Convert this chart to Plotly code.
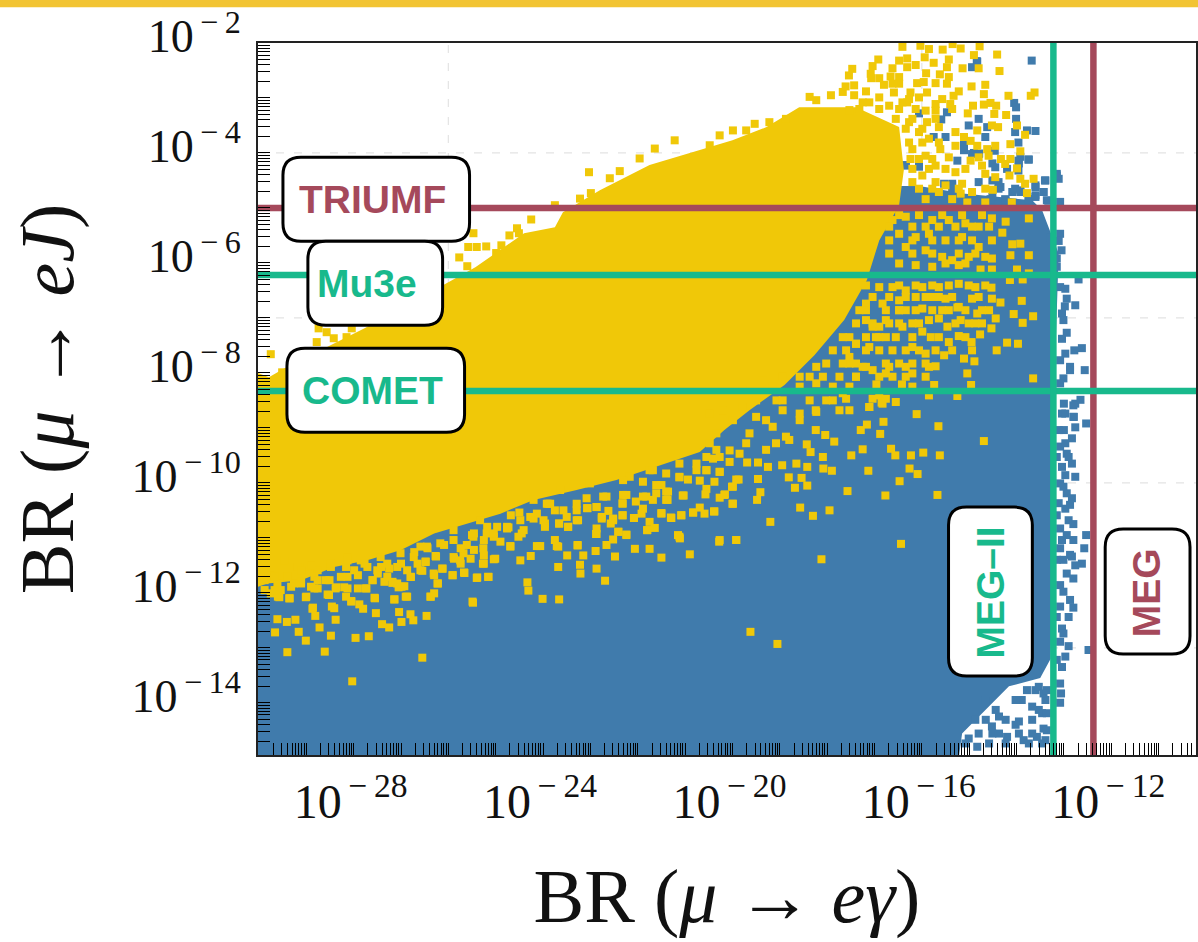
import plotly.graph_objects as go

# ---- data: log10 BR(mu->e gamma) (x) and log10 BR(mu->e J) (y) ----
blue_region_x = [-30.02, -15.22, -15.15, -14.66, -14.16, -13.50, -13.28, -13.25, -13.22, -13.18, -13.11, -13.39, -13.46, -13.67, -14.37, -15.08, -16.06, -17.0, -18.0, -30.02]
blue_region_y = [-15.0, -15.0, -14.56, -14.13, -13.70, -13.55, -13.2, -11.5, -8.5, -7.65, -5.83, -5.2, -5.04, -4.86, -4.80, -4.74, -4.6, -4.6, -5.5, -10.0]

yellow_region_x = [-30.02, -29.79, -29.47, -27.77, -26.0, -25.43, -24.40, -23.75, -23.58, -22.8, -21.75, -20.69, -20.0, -19.28, -18.59, -17.89, -17.39, -16.48, -16.38, -16.48, -16.90, -17.16, -17.64, -18.27, -18.90, -19.64, -20.17, -20.69, -21.54, -22.45, -23.29, -24.2, -24.9, -25.6, -26.3, -27.0, -27.71, -28.41, -29.11, -29.82, -30.02]
yellow_region_y = [-8.0, -8.08, -7.92, -7.19, -6.35, -6.08, -5.46, -5.35, -5.08, -4.68, -4.22, -3.95, -3.77, -3.53, -3.17, -3.17, -3.17, -3.53, -4.31, -4.95, -5.59, -6.31, -7.04, -7.68, -8.22, -8.68, -9.04, -9.44, -9.68, -9.95, -10.13, -10.31, -10.56, -10.74, -10.92, -11.22, -11.41, -11.53, -11.77, -11.83, -11.89]

yellow_x = [
 -14.69,-16.11,-15.65,-16.81,-18.24,-17.29,-17.16,-18.04,-17.85,-16.88,-17.25,-16.65,-16.56,-16.23,-15.97,-15.62,-17.49,-18.09,-18.43,-18.35,
 -16.26,-16.09,-17.13,-16.47,-18.08,-17.90,-18.42,-18.65,-18.95,-19.25,-19.46,-19.69,-18.54,-18.42,-18.68,-18.81,-19.46,-19.87,-20.01,-20.16,
 -20.55,-20.27,-17.57,-16.77,-15.67,-19.41,-19.48,-20.0,-18.57,-18.30,-17.95,-20.38,-19.20,-20.28,-19.92,-16.44,-18.12,-19.62,-19.05,
 -28.03,-26.55,-29.40,-28.61,-29.01,-27.96,-27.68,-28.48,-29.16,-29.66,-28.72,-27.25,-27.40,-26.99,-26.74,-28.38,-29.23,-29.41,-29.61,-26.46,
 -26.80,-28.81,-27.53,-27.04,-27.80,-28.87,-28.41,-25.48,-24.01,-23.66,-24.31,-24.33,-22.69,-23.21,-22.87,-23.22,-23.68,-25.15,-25.40,-25.66,
 -25.91,-26.22,-26.38,-26.87,-27.14,-27.55,-28.05,-28.52,-29.01,-29.36,-29.57,-27.73,-28.38,-28.76,-26.99,-23.49,-23.15,-22.89,-22.48,-22.06,
 -21.75,-21.50,-20.90,-21.12,-21.80,-22.24,-22.41,-22.88,-23.27,-23.71,-24.06,-24.26,-24.48,-24.69,-25.01,-25.27,-25.75,-26.26,-26.48,-26.12,
 -26.59,-26.80,-27.18,-27.60,-28.13,-28.59,-29.11,-29.61,-21.30,-21.08,-21.50,-22.08,-22.32,-22.52,-22.76,-23.06,-23.29,-23.47,-23.66,-23.96,
 -24.20,-24.45,-24.73,-25.26,-25.50,-21.05,-21.37,-22.32,-20.83,
 -29.96,-29.75,-29.47,-29.19,-28.97,-28.76,-28.48,-28.27,-28.13,-27.85,-27.71,-27.50,-27.29,-27.08,-26.87,-26.73,-26.45,-26.17,-25.89,-25.68,
 -25.47,-25.19,-24.97,-24.76,-24.48,-24.13,-23.85,-23.57,-23.29,-22.87,-22.66,-22.24,-21.89,-21.61,-21.40,-21.12,-20.76,-21.75,-22.17,-23.01,
 -23.64,-24.20,-24.55,-25.33,-25.89,-26.59,-27.01,-27.43,-27.99,-28.83,-29.40,-29.75,-29.54,-29.26,-28.90,-28.13,-27.29,-27.08,-26.31,-25.61,
 -25.89,-23.92,
 -23.03,-22.99,-23.22,-23.75,-24.25,-24.55,-24.71,-24.51,-24.88,-25.20,-25.40,-25.58,-25.47,-25.77,-25.60,-24.99,-29.75,-28.74,-28.57,-28.04,
 -28.78,-28.42,-28.15,-29.51,
 -19.99,-20.27,-20.48,-19.71,-19.53,-19.22,-18.87,-18.37,-18.23,-17.92,-17.67,-17.43,-17.53,-22.38,-21.96,-21.64,-21.22,-22.59,
 -20.48,-20.2,-19.78,-19.5,-19.15,-18.8,-20.48,-20.06,-19.71,-19.08,-20.55,-20.27,
 -20.34,-19.99,-19.64,-19.29,-18.94,-18.58,-20.34,-19.85,-19.29,-18.87,-18.24,-17.74,
 -17.18,-17.04,-17.39,-16.9,-16.76,-16.48,-17.53,-17.18,-17.39,-16.9,-17.67,-18.02,-18.23,-17.11,-16.83,-17.53,-18.58,-19.07,
 -16.41,-16.03,-15.85,-15.56,-15.35,-15.18,-14.78,-14.41,-14.90,-16.92,-15.94,-15.43,-16.48,-16.31,-16.13,-16.62,-16.31,-15.75,-15.47,-15.14,
 -14.80,-17.47,-17.04,-17.08,-17.54,-14.36,-15.91,-15.62,-16.90,-17.07,-16.66,-16.48,-15.43,-16.80,-16.62,-16.48,-16.10,-15.96,-15.71,-15.47,
 -14.95,-14.66,-16.59,-16.24,-15.89,-15.22,-15.33,-14.69,-14.17,-13.62,-13.70,-17.18,-17.43,-17.61,-16.90,-16.06,-16.31,-15.57,-17.11,-17.25,
 -16.41,-15.71,-15.40,-14.92,-14.69,-14.55,-14.43,-16.69,-16.27,-15.36,-15.71,-15.92,-15.03,-14.47,-14.22,-15.89,-15.64,-14.52,-14.39,-14.83,
 -15.29,-13.99,-13.82,-15.11,-14.13,-14.97,-13.92,-14.83,-14.45,-14.62,-15.29,-15.61,-15.43,-14.80,-14.59,-14.33,-14.13,-14.24,-14.97,-14.73,
 -15.08,-13.99,-14.45,-14.15,-14.66,-13.92,-13.64,-13.82,-15.15,-14.66,-14.50,-13.78,-14.94,-15.18,-14.10,-14.66,-15.04,
 -16.27,-16.06,-15.85,-16.20,-15.92,-15.71,-16.24,-15.99,-15.71,-16.20,-15.64,-15.92,-15.50,-15.36,-15.29,
 -16.62,-16.34,-16.20,-15.78,-15.43,-15.08,-14.80,-14.52,-14.23,-13.74,-14.30,-16.48,-16.13,-15.85,-15.50,-15.15,-14.80,-14.52,-14.09,-13.92,
 -16.34,-15.92,-15.57,-15.36,-15.01,-14.66,-14.52,-14.13,-13.74,-16.13,-15.78,-15.22,-14.76,-14.52,-13.99,-13.74,-14.14,-13.87,-16.90,-16.62,
 -16.34,-15.99,-15.64,-15.22,-14.87,-14.53,-16.48,-16.13,-15.78,-15.50,-15.22,-14.94,-14.52,-14.34,-13.89,-16.34,-15.99,-15.57,-15.25,-14.83,
 -14.58,-14.06,-13.65,-16.20,-15.85,-15.64,-15.46,-15.18,-14.87,-14.44,-13.87,-16.76,-16.41,-15.99,-15.81,-15.43,-15.22,-14.95,-14.77,-14.53,
 -16.62,-16.20,-15.92,-15.71,-15.53,-14.42,-14.20,-13.97,-16.69,-16.34,-15.85,-15.71,-15.11,-14.89,-15.04,-17.25,-17.04,-16.76,-16.20,-13.65,
 -16.96,-16.42,-15.74,-14.96,-17.39,-17.11,-17.53,-16.90,-17.18,-16.83,-17.32,-17.67,-17.88,-18.23,-18.58,-18.94,-19.36,-17.11,-16.85,-16.55,
 -15.85,-15.25,-16.20,-16.90,-17.53,-17.88,-18.23,-18.58,-19.15,-19.78,-17.88,-18.37,-18.94,-19.50,
 -29.88,-29.60,-29.35,-29.00,-28.55,-28.37,-28.20,-28.16,-27.91,-27.74,-27.56,-27.14,-26.90,-26.37,-26.30,-25.49,-28.86,-28.46,-27.88,-28.05,
 -27.05,-26.93,-27.60,-27.35,-27.18,-26.79,-26.55,-26.23,-26.13,-25.91,-25.67,-25.39,-25.16,-26.30,-26.48,-26.27,-25.88,-25.53,-25.25,-25.04,
 -25.74,-26.65,-27.00,-27.25,-27.49,-27.91,-28.16,-28.51,-28.76,-29.11,-29.32,-29.67,-28.83,-29.11,-29.39,-29.67,-29.88,-28.13,-28.48,-28.90,
 -27.77,-27.42,-26.72,-26.44,-26.09,-25.74,-25.46,-25.25,-25.25,-25.46,-25.04,
 -25.18,-25.04,-24.76,-24.41,-24.52,-24.90,-24.69,-23.99,-23.96,-23.66,-23.50,-23.26,-23.47,-22.87,-22.62,-22.76,-22.52,-22.57,-23.07,-23.29,
 -24.50,-24.27,-24.68,-23.89,-23.75,-22.32,-22.04,-21.82,-21.61,-21.68,-21.40,-21.36,-21.50,-22.31,-22.73,-23.08,-21.89,-21.92,-22.32,-22.08,
 -21.50,-21.29,-21.08,-21.75,-21.64,-21.80,-22.41,-22.24,-22.87,-22.87,-22.52,-22.66,-23.75,-23.68,-24.13,-23.27,-21.15,-21.11,-20.83,-20.69,
 -20.59,-20.39,-21.03,-20.55,-20.57,-20.17,-20.27,-19.99,-19.99,-19.92,-20.38,-20.69,-20.94,-21.12,-20.55,-20.27,-21.89,-22.31,-21.68,-21.40,
 -21.12,-20.76,-20.41,-20.06,-20.27,-19.92,
 -16.48,-16.06,-15.57,-15.15,-14.73,
 -16.69,-15.92,-15.64,-15.29,-14.94,-14.58,
 -16.69,-16.20,-15.78,-15.22,-14.94,
 -16.69,-16.20,-15.78,-15.22,-14.87,
 -16.48,-15.50,-15.08,
 -17.18,-16.48,-16.13,-15.78,-15.43,-15.01,-14.66,
 -17.04,-16.69,-16.34,-15.92,-15.64,-15.36,-14.80,
 -17.18,-16.76,-16.48,-16.13,-15.78,-15.43,-15.08,-14.73,
 -17.39,-17.04,-16.69,-16.48,-16.06,-15.29,-15.01,-14.73,
 -17.53,-17.18,-16.97,-16.55,-16.20,-15.64,-15.08,
 -17.60,-17.18,-16.90,-16.34,-16.06,-15.36,-14.94,
 -18.02,-17.67,-17.39,-16.76,-16.48,-16.20,-15.92,
 -18.37,-18.09,-17.74,-17.39,-16.62,-16.34,-15.92,
 -17.60,-17.04,-16.76,
 -17.32,-16.90,-16.48,-16.13,
 -16.55,-16.20,-15.71,
 -16.34,-15.99,
 -16.27,-15.99,-15.64,
 -16.06,-15.78,
 -16.20,-15.85,-15.50,
 -16.06,-15.78,-15.22,
]
yellow_y = [
 -9.24,-8.75,-8.97,-8.89,-9.04,-9.04,-8.94,-9.13,-9.25,-9.11,-9.39,-9.38,-9.50,-9.50,-9.45,-9.50,-9.50,-9.53,-9.30,-9.44,
 -9.74,-9.84,-9.78,-9.97,-9.74,-9.78,-9.71,-9.65,-9.68,-9.71,-9.63,-9.63,-9.91,-10.05,-10.09,-9.90,-9.93,-9.94,-10.07,-10.21,
 -9.77,-9.80,-10.15,-10.23,-10.22,-10.17,-10.31,-10.38,-10.45,-10.60,-10.50,-10.52,-10.71,-11.07,-11.04,-11.11,-11.39,-12.71,-12.93,
 -13.61,-13.18,-13.08,-13.07,-12.87,-12.82,-12.79,-12.78,-12.71,-12.72,-12.63,-12.63,-12.57,-12.53,-12.50,-12.49,-12.49,-12.53,-12.48,-12.42,
 -12.39,-12.42,-12.37,-12.35,-12.29,-12.29,-12.28,-12.18,-12.11,-12.12,-11.96,-11.81,-11.78,-11.65,-11.56,-11.49,-11.53,-11.71,-11.73,-11.64,
 -11.68,-11.83,-12.07,-12.07,-12.12,-12.10,-12.15,-12.04,-12.08,-12.10,-12.08,-11.92,-11.92,-11.92,-11.89,-11.32,-11.32,-11.24,-11.34,-11.20,
 -11.20,-11.36,-11.30,-10.98,-10.86,-10.95,-10.89,-10.93,-11.14,-11.15,-11.15,-11.33,-11.41,-11.16,-11.38,-11.47,-11.41,-11.34,-11.43,-11.56,
 -11.59,-11.71,-11.82,-11.77,-11.92,-11.77,-11.83,-11.83,-10.63,-10.59,-10.55,-10.64,-10.59,-10.68,-10.62,-10.46,-10.68,-10.80,-10.74,-10.74,
 -10.65,-10.92,-10.81,-11.19,-10.95,-10.23,-10.31,-10.37,-10.54,
 -11.71,-11.68,-11.41,-11.53,-11.53,-11.59,-11.53,-11.71,-11.35,-11.41,-11.53,-11.59,-11.47,-11.53,-11.59,-11.35,-11.16,-11.10,-11.04,-11.28,
 -10.98,-10.92,-10.80,-10.80,-10.68,-10.56,-10.38,-10.50,-10.38,-10.44,-10.25,-10.22,-10.25,-10.04,-10.16,-9.89,-9.77,-9.77,-9.89,-10.01,
 -10.13,-10.31,-10.31,-10.68,-10.86,-11.16,-11.28,-11.35,-11.59,-11.71,-11.71,-12.01,-11.95,-11.83,-11.89,-11.71,-11.71,-11.83,-11.65,-11.13,
 -11.35,-10.38,
 -4.35,-4.73,-4.83,-4.95,-5.21,-5.37,-5.50,-5.46,-5.68,-5.70,-5.71,-5.71,-5.46,-5.90,-6.06,-5.82,-7.66,-7.19,-7.26,-7.19,
 -7.44,-7.37,-7.35,-7.99,
 -3.59,-3.68,-3.86,-3.59,-3.47,-3.44,-3.38,-2.98,-3.04,-2.95,-2.89,-2.95,-3.22,-4.33,-4.10,-3.92,-3.77,-4.46,
 -8.74,-8.68,-8.62,-8.80,-8.98,-9.22,-9.28,-9.41,-9.28,-9.28,-9.53,-9.53,
 -9.1,-8.86,-9.1,-8.86,-8.68,-8.86,-9.4,-9.47,-9.4,-9.16,-8.68,-8.68,
 -6.74,-7.16,-7.47,-7.35,-7.04,-6.86,-7.83,-7.89,-8.07,-8.07,-8.37,-8.5,-8.71,-8.62,-8.56,-8.68,-8.74,-8.5,
 -2.07,-2.05,-2.11,-2.12,-2.02,-2.10,-2.06,-2.21,-2.22,-2.30,-2.26,-2.30,-2.32,-2.28,-2.40,-2.46,-2.44,-2.36,-2.44,-2.46,
 -2.46,-2.47,-2.42,-2.56,-2.59,-2.51,-2.55,-2.57,-2.64,-2.64,-2.61,-2.62,-2.62,-2.76,-2.74,-2.74,-2.73,-2.71,-2.73,-2.74,
 -2.79,-2.76,-2.90,-2.90,-2.90,-2.88,-2.96,-2.93,-2.96,-2.90,-2.96,-2.88,-2.77,-2.79,-2.99,-2.99,-3.08,-3.02,-3.08,-3.08,
 -3.08,-3.11,-3.11,-3.14,-3.12,-3.09,-3.14,-3.14,-3.02,-3.20,-3.23,-3.23,-3.28,-3.29,-3.31,-3.44,-3.53,-3.50,-3.53,-3.59,
 -3.62,-3.50,-3.67,-3.71,-3.84,-3.78,-3.97,-3.87,-3.87,-3.93,-3.87,-3.93,-4.08,-4.08,-4.05,-4.11,-4.11,-4.20,-4.14,-4.23,
 -4.29,-4.28,-4.44,-4.41,-4.38,-4.47,-4.47,-4.56,-4.56,-4.65,-4.67,-4.73,-4.71,-4.74,-4.90,-4.90,-4.90,
 -3.44,-3.62,-3.74,-3.93,-4.05,-4.23,-4.11,-4.41,-4.53,-4.53,-4.71,-4.84,-4.59,-4.84,-4.35,
 -5.22,-5.16,-5.34,-5.22,-5.22,-5.28,-5.34,-5.19,-5.25,-5.19,-5.45,-5.47,-5.53,-5.47,-5.59,-5.53,-5.71,-5.59,-5.66,-5.65,
 -5.71,-5.77,-5.89,-5.95,-5.89,-5.89,-5.92,-5.86,-5.86,-6.04,-6.07,-6.04,-6.12,-6.12,-6.12,-6.19,-6.31,-6.30,-6.44,-6.44,
 -6.50,-6.44,-6.44,-6.38,-6.44,-6.45,-6.68,-6.62,-6.62,-6.65,-6.80,-6.65,-6.65,-6.72,-6.69,-6.86,-6.83,-6.86,-6.81,-6.92,
 -6.86,-6.93,-6.97,-7.10,-7.04,-7.01,-7.16,-7.04,-7.10,-7.01,-7.09,-7.35,-7.16,-7.25,-7.35,-7.44,-7.33,-7.44,-7.30,-7.19,
 -7.59,-7.53,-7.65,-7.59,-7.68,-7.59,-7.45,-7.47,-7.89,-7.89,-7.89,-7.88,-7.74,-7.79,-8.01,-7.89,-7.95,-8.01,-8.01,-8.10,
 -8.21,-8.21,-8.22,-8.22,-7.47,-7.53,-7.71,-7.16,-7.04,-6.74,-6.86,-7.35,-7.59,-7.89,-8.07,-8.07,-8.13,-8.62,-8.54,-8.53,
 -8.41,-8.42,-8.25,-8.41,-8.25,-8.25,-8.19,-8.25,-8.25,-8.31,-8.50,-8.50,-8.50,-8.50,
 -11.95,-12.07,-12.10,-12.07,-12.03,-11.90,-11.90,-12.07,-11.92,-11.92,-12.09,-12.12,-12.07,-12.07,-12.01,-12.16,-12.27,-12.25,-12.21,-12.16,
 -11.90,-11.88,-11.77,-11.80,-11.80,-11.71,-11.60,-11.83,-11.56,-11.68,-11.63,-11.72,-11.71,-11.68,-11.44,-11.33,-11.38,-11.38,-11.47,-11.39,
 -11.47,-11.47,-11.47,-11.56,-11.65,-11.68,-11.53,-11.77,-11.77,-11.80,-11.89,-11.95,-11.92,-11.59,-11.71,-11.71,-11.77,-11.41,-11.47,-11.50,
 -11.47,-11.53,-11.26,-11.19,-11.13,-11.19,-11.22,-11.32,-11.04,-10.92,-10.98,
 -10.80,-10.92,-10.83,-10.86,-10.98,-11.07,-11.15,-10.68,-10.80,-10.74,-10.62,-10.68,-10.80,-10.44,-10.51,-10.65,-10.65,-10.74,-10.46,-10.50,
 -10.54,-10.62,-10.59,-10.38,-10.50,-10.38,-10.34,-10.25,-10.19,-10.31,-10.31,-10.16,-10.04,-10.22,-10.25,-10.28,-10.47,-10.56,-10.59,-10.64,
 -10.56,-10.64,-10.59,-10.71,-10.82,-10.86,-10.89,-10.94,-10.83,-10.93,-11.03,-11.13,-11.04,-11.16,-11.15,-11.13,-10.95,-11.01,-10.54,-10.45,
 -10.56,-10.52,-10.23,-10.11,-10.21,-10.22,-10.27,-10.07,-10.38,-9.94,-9.98,-9.96,-9.94,-9.90,-9.77,-9.80,-9.98,-9.95,-9.77,-9.83,
 -9.65,-9.65,-9.56,-9.62,-11.04,-11.04,
 -5.13,-5.13,-5.13,-5.13,-5.13,
 -5.34,-5.34,-5.34,-5.34,-5.34,-5.34,
 -5.59,-5.59,-5.59,-5.59,-5.59,
 -5.83,-5.83,-5.83,-5.83,-5.83,
 -6.01,-6.01,-6.01,
 -6.41,-6.41,-6.41,-6.41,-6.41,-6.41,-6.41,
 -6.62,-6.62,-6.62,-6.62,-6.62,-6.62,-6.62,
 -6.86,-6.86,-6.86,-6.86,-6.86,-6.86,-6.86,-6.86,
 -7.10,-7.10,-7.10,-7.10,-7.10,-7.10,-7.10,-7.10,
 -7.35,-7.35,-7.35,-7.35,-7.35,-7.35,-7.35,
 -7.59,-7.59,-7.59,-7.59,-7.59,-7.59,-7.59,
 -7.83,-7.83,-7.83,-7.83,-7.83,-7.83,-7.83,
 -8.07,-8.07,-8.07,-8.07,-8.07,-8.07,-8.07,
 -8.47,-8.47,-8.47,
 -3.20,-3.20,-3.20,-3.20,
 -3.38,-3.38,-3.38,
 -3.56,-3.56,
 -3.81,-3.81,-3.81,
 -4.11,-4.11,
 -4.29,-4.29,-4.29,
 -4.65,-4.65,-4.65,
]

blue_x = [
 -14.84,-15.11,-15.11,-14.90,-14.79,-13.92,-13.74,-13.95,-14.51,-16.34,-16.06,-13.15,-13.11,-13.39,-13.60,-13.43,-14.09,-14.34,-14.51,-15.36,
 -15.53,-13.92,-13.60,-13.08,-13.36,-14.51,-14.23,-16.06,-15.50,
 -13.08,-13.11,-13.29,-13.05,-13.15,-13.15,-12.69,-12.97,-13.08,-12.94,-12.76,-12.98,-13.04,-13.01,-12.94,-13.04,-12.62,-12.78,-12.97,-13.08,
 -12.87,-12.56,-12.87,-13.01,-13.08,-12.65,-12.76,-13.0,-13.04,-12.79,
 -12.80,-12.80,-12.97,-12.76,-12.53,-13.0,-12.83,-13.08,-12.94,-12.83,-13.04,-12.76,-12.97,-13.08,-12.94,-12.83,-13.11,-12.97,-12.90,-12.80,
 -13.08,-12.94,-12.53,-12.80,-12.57,-13.08,-12.87,-12.62,-12.76,-12.94,-12.80,-13.08,-12.87,-12.80,-13.08,-12.90,-13.04,-13.08,-12.90,-12.97,
 -13.04,-13.08,-13.06,-13.08,-12.48,
 -13.39,-13.53,-13.43,-13.67,-13.85,-14.02,-14.51,-14.37,-15.01,-14.83,-13.57,-14.20,-14.65,-13.89,-13.39,-13.60,
 -13.11,-12.97,-13.15,-13.01,-13.15,-13.04,-13.15,-13.01,-13.15,-13.01,-13.15,-12.90,-12.87,-13.01,-12.83,
 -13.68,-14.83,-14.94,-14.05,-14.01,-14.80,-15.01,-14.01,-14.03,-13.60,-13.78,-13.96,-15.50,-15.75,-16.06,-15.47,-15.59,-14.66,-14.62,-15.11,
 -15.11,-14.94,-14.80,-14.46,-13.96,-13.75,-16.34,-15.25,-14.45,-14.20,-13.96,-13.40,-13.15,-13.60,-13.43,-15.36,-14.38,-14.80,-14.38,-14.03,
 -13.75,-14.24,-13.92,-13.60,-14.55,-15.36,-13.33,
 -14.87,-14.66,-14.44,-14.23,-14.02,-13.78,-13.53,-13.43,-13.46,-13.67,-13.95,-14.52,-14.80,-14.37,-13.95,-13.67,-13.46,-15.08,-14.58,-14.23,
 -13.36,-13.74,-13.36,-13.36,
]
blue_y = [
 -2.33,-3.86,-3.95,-4.00,-4.01,-4.07,-4.12,-4.19,-4.19,-4.22,-4.25,-4.38,-4.47,-4.50,-4.59,-4.71,-4.71,-4.62,-4.50,-4.56,
 -4.56,-4.71,-4.80,-4.89,-4.86,-4.80,-4.86,-4.89,-4.86,
 -5.47,-5.60,-5.53,-5.77,-5.92,-6.07,-6.30,-6.47,-6.44,-6.65,-6.77,-6.79,-6.92,-7.04,-7.27,-7.38,-7.55,-7.59,-7.65,-7.77,
 -7.89,-7.95,-7.95,-8.10,-8.19,-8.49,-8.56,-8.56,-8.74,-8.80,
 -8.59,-8.80,-8.74,-8.99,-8.92,-9.04,-9.19,-9.34,-9.47,-9.65,-9.71,-9.89,-9.86,-10.01,-10.19,-10.28,-10.37,-10.47,-10.68,-10.75,
 -10.83,-10.95,-10.95,-11.04,-11.19,-11.19,-11.31,-11.47,-11.50,-11.65,-11.74,-11.86,-12.13,-12.27,-12.25,-12.44,-12.65,-12.89,-12.97,-13.16,
 -13.35,-13.65,-13.83,-14.0,-13.04,
 -13.95,-14.13,-14.47,-14.31,-14.68,-14.40,-14.56,-14.25,-14.65,-14.80,-14.62,-14.62,-14.31,-13.95,-14.68,-13.77,
 -9.04,-9.28,-9.53,-10.07,-10.59,-11.04,-11.40,-11.98,-12.44,-12.74,-13.22,-9.53,-10.40,-11.40,-11.34,
 -2.32,-2.34,-2.44,-3.09,-3.17,-3.38,-3.50,-3.38,-3.62,-3.60,-3.59,-3.81,-3.71,-3.71,-3.28,-3.26,-3.39,-3.71,-3.53,-3.84,
 -3.93,-4.02,-4.02,-3.96,-4.14,-4.12,-4.23,-4.14,-4.26,-4.29,-4.32,-4.50,-4.41,-4.62,-4.71,-4.59,-4.65,-4.53,-4.53,-4.65,
 -4.84,-4.84,-4.68,-4.77,-4.84,-4.71,-4.87,
 -14.31,-13.95,-14.13,-14.31,-13.95,-13.77,-13.71,-13.83,-14.19,-14.07,-14.34,-14.43,-14.56,-14.56,-14.56,-14.56,-14.74,-14.74,-14.74,-14.74,
 -14.50,-14.74,-14.19,-13.77,
]

# experiment limits (BR values)
limit_names_y = ["TRIUMF", "Mu3e", "COMET"]
limit_vals_y = [1e-5, 6e-7, 4.7e-9]
limit_names_x = ["MEG-II", "MEG"]
limit_vals_x = [6e-14, 4.2e-13]

x_grid_exp = [-26, -16]
y_grid_exp = [-4, -7, -10, -13]
x_label_exp = [-28, -24, -20, -16, -12]
y_label_exp = [-2, -4, -6, -8, -10, -12, -14]

XR = [-30.02, -10.21]
YR = [-14.95, -2.0]
W, H = 1198, 942
L, T, B = 258, 42.7, 755
YELLOW, BLUE, GREEN, RED = "#F0C808", "#407BAC", "#18B98C", "#A5495B"
SERIF = "Liberation Serif"
INK = "#111111"

def pow10(v):
    return [10.0 ** a for a in v]

def sup(e):
    return f"10<sup>\u2009\u2212\u2009{abs(e)}</sup>"

def minor_ticks(lo, hi, labels):
    vals = []
    for e in range(lo, hi):
        for m in range(1, 10):
            if not (m == 1 and e in labels):
                vals.append(float(f"{m}e{e}"))
    return vals

fig = go.Figure()

def line(x, y, color, width, dash=None):
    fig.add_trace(go.Scatter(x=x, y=y, mode="lines", hoverinfo="skip", showlegend=False,
                             line=dict(color=color, width=width, dash=dash)))

for e in x_grid_exp:
    line([10.0 ** e] * 2, [10.0 ** YR[0], 10.0 ** YR[1]], "#E4E4E4", 1.2, "8px,10px")
for e in y_grid_exp:
    line([10.0 ** XR[0], 10.0 ** XR[1]], [10.0 ** e] * 2, "#E4E4E4", 1.2, "8px,10px")

def region(x, y, color):
    fig.add_trace(go.Scatter(x=pow10(x), y=pow10(y), mode="lines", fill="toself", fillcolor=color,
                             line=dict(width=0, color=color), hoverinfo="skip", showlegend=False))

def points(x, y, color):
    fig.add_trace(go.Scatter(x=pow10(x), y=pow10(y), mode="markers", hoverinfo="skip", showlegend=False,
                             marker=dict(symbol="square", size=8, color=color, line=dict(width=0))))

region(blue_region_x, blue_region_y, BLUE)
points(blue_x, blue_y, BLUE)
region(yellow_region_x, yellow_region_y, YELLOW)
points(yellow_x, yellow_y, YELLOW)

line([10.0 ** XR[0], 10.0 ** XR[1]], [limit_vals_y[0]] * 2, RED, 6.5)
line([limit_vals_x[1]] * 2, [10.0 ** YR[0], 10.0 ** YR[1]], RED, 6.5)
line([10.0 ** XR[0], 10.0 ** XR[1]], [limit_vals_y[1]] * 2, GREEN, 6.5)
line([10.0 ** XR[0], 10.0 ** XR[1]], [limit_vals_y[2]] * 2, GREEN, 6.5)
line([limit_vals_x[0]] * 2, [10.0 ** YR[0], 10.0 ** YR[1]], GREEN, 6.5)

PW, PH = W - L, B - T
def px(v): return (v - L) / PW
def py(v): return (B - v) / PH

def rounded(x0, y0, x1, y1, r=18):
    X0, X1, Xa, Xb = px(x0), px(x1), px(x0 + r), px(x1 - r)
    Y0, Y1, Ya, Yb = py(y0), py(y1), py(y0 + r), py(y1 - r)
    return (f"M {Xa} {Y0} L {Xb} {Y0} Q {X1} {Y0} {X1} {Ya} L {X1} {Yb} Q {X1} {Y1} {Xb} {Y1} "
            f"L {Xa} {Y1} Q {X0} {Y1} {X0} {Yb} L {X0} {Ya} Q {X0} {Y0} {Xa} {Y0} Z")

boxes = [
    ("TRIUMF", 283, 157, 470, 241, RED, 0, 373, 199),
    ("Mu3e", 308, 241, 443, 325, GREEN, 0, 367, 283),
    ("COMET", 287, 348, 465, 432, GREEN, 0, 373, 390),
    ("MEG\u2013II", 950, 507, 1034, 676, GREEN, -90, 992, 592),
    ("MEG", 1107, 529, 1192, 654, RED, -90, 1148, 593),
]
shapes = [dict(type="rect", xref="paper", yref="paper", x0=px(-5), x1=px(W + 5),
               y0=py(7), y1=py(-5), fillcolor="#F2C433", line=dict(width=0), layer="above")]
annotations = []
for name, x0, y0, x1, y1, col, ang, cx, cy in boxes:
    shapes.append(dict(type="path", xref="paper", yref="paper", path=rounded(x0, y0, x1, y1),
                       fillcolor="white", line=dict(color="black", width=3), layer="above"))
    annotations.append(dict(text=f"<b>{name}</b>", xref="paper", yref="paper", x=px(cx), y=py(cy),
                            xanchor="center", yanchor="middle", showarrow=False, textangle=ang,
                            font=dict(family="Liberation Sans", size=39, color=col)))

def axis_style(vals, text, minor_vals, size, title):
    return dict(type="log", tickmode="array", tickvals=vals, ticktext=text, ticks="inside",
                ticklen=12, tickwidth=1.2, tickcolor="black", showgrid=False, zeroline=False,
                showline=True, linecolor="#222", linewidth=2, mirror=True,
                minor=dict(tickmode="array", tickvals=minor_vals, ticks="inside", ticklen=12,
                           tickwidth=1.2, tickcolor="black", showgrid=False),
                tickfont=dict(family=SERIF, size=size, color=INK), tickangle=0,
                title=title)

fig.update_layout(
    width=W, height=H, margin=dict(l=L, r=0, t=T, b=H - B, pad=0),
    paper_bgcolor="white", plot_bgcolor="white", showlegend=False,
    shapes=shapes, annotations=annotations,
    font=dict(family=SERIF, color=INK),
    xaxis=axis_style([10.0 ** e for e in x_label_exp], [sup(e) for e in x_label_exp],
                     minor_ticks(-31, -10, x_label_exp), 48,
                     dict(text="BR (<i>\u03bc</i> \u2192 <i>e\u03b3</i>)",
                          font=dict(family=SERIF, size=76, color=INK), standoff=42)),
    yaxis=axis_style([10.0 ** e for e in y_label_exp], [sup(e) for e in y_label_exp],
                     minor_ticks(-16, -2, y_label_exp), 46,
                     dict(text="BR (<i>\u03bc</i> \u2192 <i>eJ</i>)",
                          font=dict(family=SERIF, size=76, color=INK), standoff=33)),
)
fig.update_xaxes(range=XR, ticklabelstandoff=3, ticklabelshift=-3)
fig.update_yaxes(range=YR, ticklabelstandoff=6, ticklabelshift=-7)

fig.write_html("out.html", config={"displayModeBar": False},
               post_script="document.body.style.margin='0';document.documentElement.style.overflow='hidden';")
